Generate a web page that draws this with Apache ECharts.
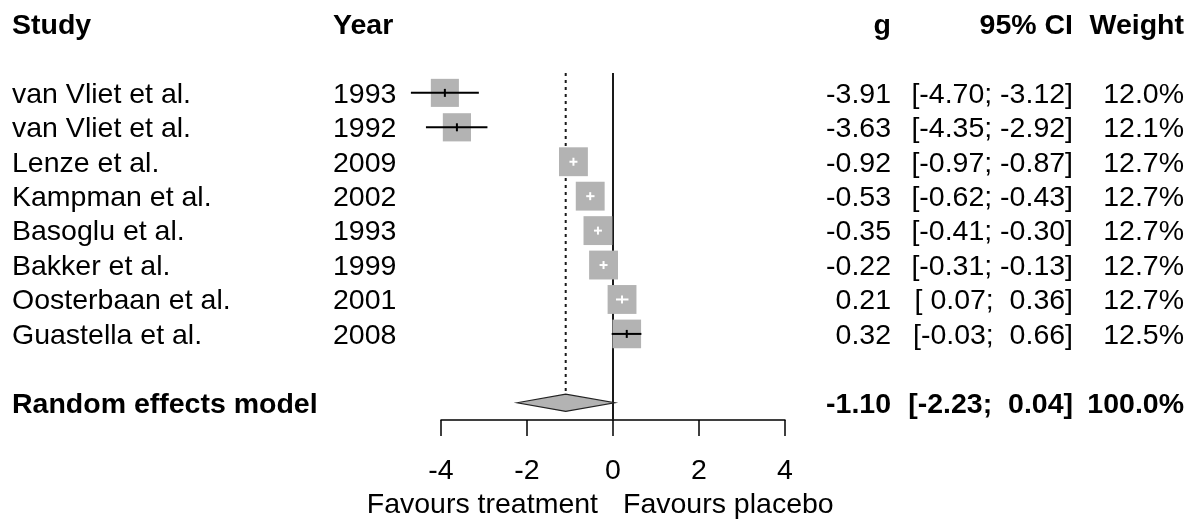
<!DOCTYPE html>
<html>
<head>
<meta charset="utf-8">
<script src="https://cdn.jsdelivr.net/npm/echarts@6/dist/echarts.min.js"></script>
<style>
  html, body { margin: 0; padding: 0; background: #fff; }
  #forest { width: 1196px; height: 520px; }
</style>
</head>
<body>
<div id="forest"></div>
<script>
const studies = ['van Vliet et al.', 'van Vliet et al.', 'Lenze et al.', 'Kampman et al.', 'Basoglu et al.', 'Bakker et al.', 'Oosterbaan et al.', 'Guastella et al.']
const years = ['1993', '1992', '2009', '2002', '1993', '1999', '2001', '2008']
const g = [-3.91, -3.63, -0.92, -0.53, -0.35, -0.22, 0.21, 0.32]
const ciLow = [-4.70, -4.35, -0.97, -0.62, -0.41, -0.31, 0.07, -0.03]
const ciHigh = [-3.12, -2.92, -0.87, -0.43, -0.30, -0.13, 0.36, 0.66]
const weights = [12.0, 12.1, 12.7, 12.7, 12.7, 12.7, 12.7, 12.5]

const modelLabel = 'Random effects model'
const modelG = -1.10
const modelLow = -2.23
const modelHigh = 0.04
const modelWeight = 100.0

const headers = ['Study', 'Year', 'g', '95% CI', 'Weight']
const xTicks = [-4, -2, 0, 2, 4]
const favours = ['Favours treatment', 'Favours placebo']

const FONT = '"Liberation Sans", Arial, Helvetica, sans-serif'
const FS = 28.5
const modelRow = studies.length + 1

function num(v) {
  return (v < 0 ? '' : ' ') + v.toFixed(2)
}
function ciText(lo, hi) {
  return '[' + num(lo) + '; ' + num(hi) + ']'
}

// text cells: x is on the full width layout axis, row on the row axis
const cols = { study: 12, year: 333, g: 891, ci: 1073, weight: 1184 }
const texts = []
texts.push({ x: cols.study, row: -2, text: headers[0], align: 'left', bold: true })
texts.push({ x: cols.year, row: -2, text: headers[1], align: 'left', bold: true })
texts.push({ x: cols.g, row: -2, text: headers[2], align: 'right', bold: true })
texts.push({ x: cols.ci, row: -2, text: headers[3], align: 'right', bold: true })
texts.push({ x: cols.weight, row: -2, text: headers[4], align: 'right', bold: true })
studies.forEach((s, i) => {
  texts.push({ x: cols.study, row: i, text: s, align: 'left' })
  texts.push({ x: cols.year, row: i, text: years[i], align: 'left' })
  texts.push({ x: cols.g, row: i, text: g[i].toFixed(2), align: 'right' })
  texts.push({ x: cols.ci, row: i, text: ciText(ciLow[i], ciHigh[i]), align: 'right' })
  texts.push({ x: cols.weight, row: i, text: weights[i].toFixed(1) + '%', align: 'right' })
})
texts.push({ x: cols.study, row: modelRow, text: modelLabel, align: 'left', bold: true })
texts.push({ x: cols.g, row: modelRow, text: modelG.toFixed(2), align: 'right', bold: true })
texts.push({ x: cols.ci, row: modelRow, text: ciText(modelLow, modelHigh), align: 'right', bold: true })
texts.push({ x: cols.weight, row: modelRow, text: modelWeight.toFixed(1) + '%', align: 'right', bold: true })
texts.push({ x: 598, row: 11.9, text: favours[0], align: 'right' })
texts.push({ x: 623, row: 11.9, text: favours[1], align: 'left' })

const chart = echarts.init(document.getElementById('forest'))
chart.setOption({
  animation: false,
  backgroundColor: '#fff',
  grid: [
    { left: 441, right: 411, top: 24, height: 396 },
    { left: 0, right: 0, top: 24, height: 396 }
  ],
  xAxis: [
    {
      type: 'value',
      gridIndex: 0,
      min: -4,
      max: 4,
      interval: 2,
      axisLine: { show: true, onZero: false, lineStyle: { color: '#000', width: 1.5 } },
      axisTick: { show: true, inside: false, length: 16, lineStyle: { color: '#000', width: 1.5 } },
      axisLabel: {
        color: '#000',
        fontSize: FS,
        fontFamily: FONT,
        margin: 37,
        formatter: v => xTicks.indexOf(v) >= 0 ? String(v) : ''
      },
      splitLine: { show: false }
    },
    { type: 'value', gridIndex: 1, min: 0, max: 1196, show: false }
  ],
  yAxis: [
    { type: 'value', gridIndex: 0, min: -2, max: 9.5, inverse: true, show: false },
    { type: 'value', gridIndex: 1, min: -2, max: 9.5, inverse: true, show: false }
  ],
  series: [
    {
      // line of no effect
      type: 'line',
      xAxisIndex: 0,
      yAxisIndex: 0,
      symbol: 'none',
      z: 1,
      data: [[0, -0.58], [0, 9.5]],
      lineStyle: { color: '#1a1a1a', width: 2 }
    },
    {
      // pooled estimate
      type: 'line',
      xAxisIndex: 0,
      yAxisIndex: 0,
      symbol: 'none',
      z: 1,
      data: [[modelG, -0.58], [modelG, modelRow - 0.26]],
      lineStyle: { color: '#1a1a1a', width: 2, type: [3, 4] }
    },
    {
      type: 'custom',
      xAxisIndex: 0,
      yAxisIndex: 0,
      z: 3,
      data: g.map((v, i) => [v, i]),
      renderItem(params, api) {
        const i = params.dataIndex
        const c = api.coord([g[i], i])
        const lo = api.coord([ciLow[i], i])
        const hi = api.coord([ciHigh[i], i])
        const s = 8.1 * Math.sqrt(weights[i])
        const inside = lo[0] >= c[0] - s / 2 && hi[0] <= c[0] + s / 2
        const col = inside ? '#fff' : '#000'
        let x1 = lo[0], x2 = hi[0]
        if (inside) {
          x1 = Math.min(x1, c[0] - 4)
          x2 = Math.max(x2, c[0] + 4)
        }
        return {
          type: 'group',
          children: [
            { type: 'rect', shape: { x: c[0] - s / 2, y: c[1] - s / 2, width: s, height: s }, style: { fill: '#b3b3b3' } },
            { type: 'line', shape: { x1: x1, y1: c[1], x2: x2, y2: c[1] }, style: { stroke: col, lineWidth: 2 } },
            { type: 'line', shape: { x1: c[0], y1: c[1] - 4, x2: c[0], y2: c[1] + 4 }, style: { stroke: col, lineWidth: 2 } }
          ]
        }
      }
    },
    {
      type: 'custom',
      xAxisIndex: 0,
      yAxisIndex: 0,
      z: 3,
      data: [[modelG, modelRow]],
      renderItem(params, api) {
        const l = api.coord([modelLow, modelRow])
        const r = api.coord([modelHigh, modelRow])
        const t = api.coord([modelG, modelRow - 0.25])
        const b = api.coord([modelG, modelRow + 0.25])
        return {
          type: 'polygon',
          shape: { points: [l, t, r, b] },
          style: { fill: '#b3b3b3', stroke: '#222', lineWidth: 1.2 }
        }
      }
    },
    {
      type: 'custom',
      xAxisIndex: 1,
      yAxisIndex: 1,
      z: 4,
      data: texts.map(t => [t.x, t.row]),
      renderItem(params, api) {
        const t = texts[params.dataIndex]
        const p = api.coord([t.x, t.row])
        return {
          type: 'text',
          x: p[0],
          y: p[1] + 2,
          style: {
            text: t.text,
            fill: '#000',
            fontSize: FS,
            fontFamily: FONT,
            fontWeight: t.bold ? 'bold' : 'normal',
            align: t.align,
            verticalAlign: 'middle'
          }
        }
      }
    }
  ]
})
</script>
</body>
</html>
